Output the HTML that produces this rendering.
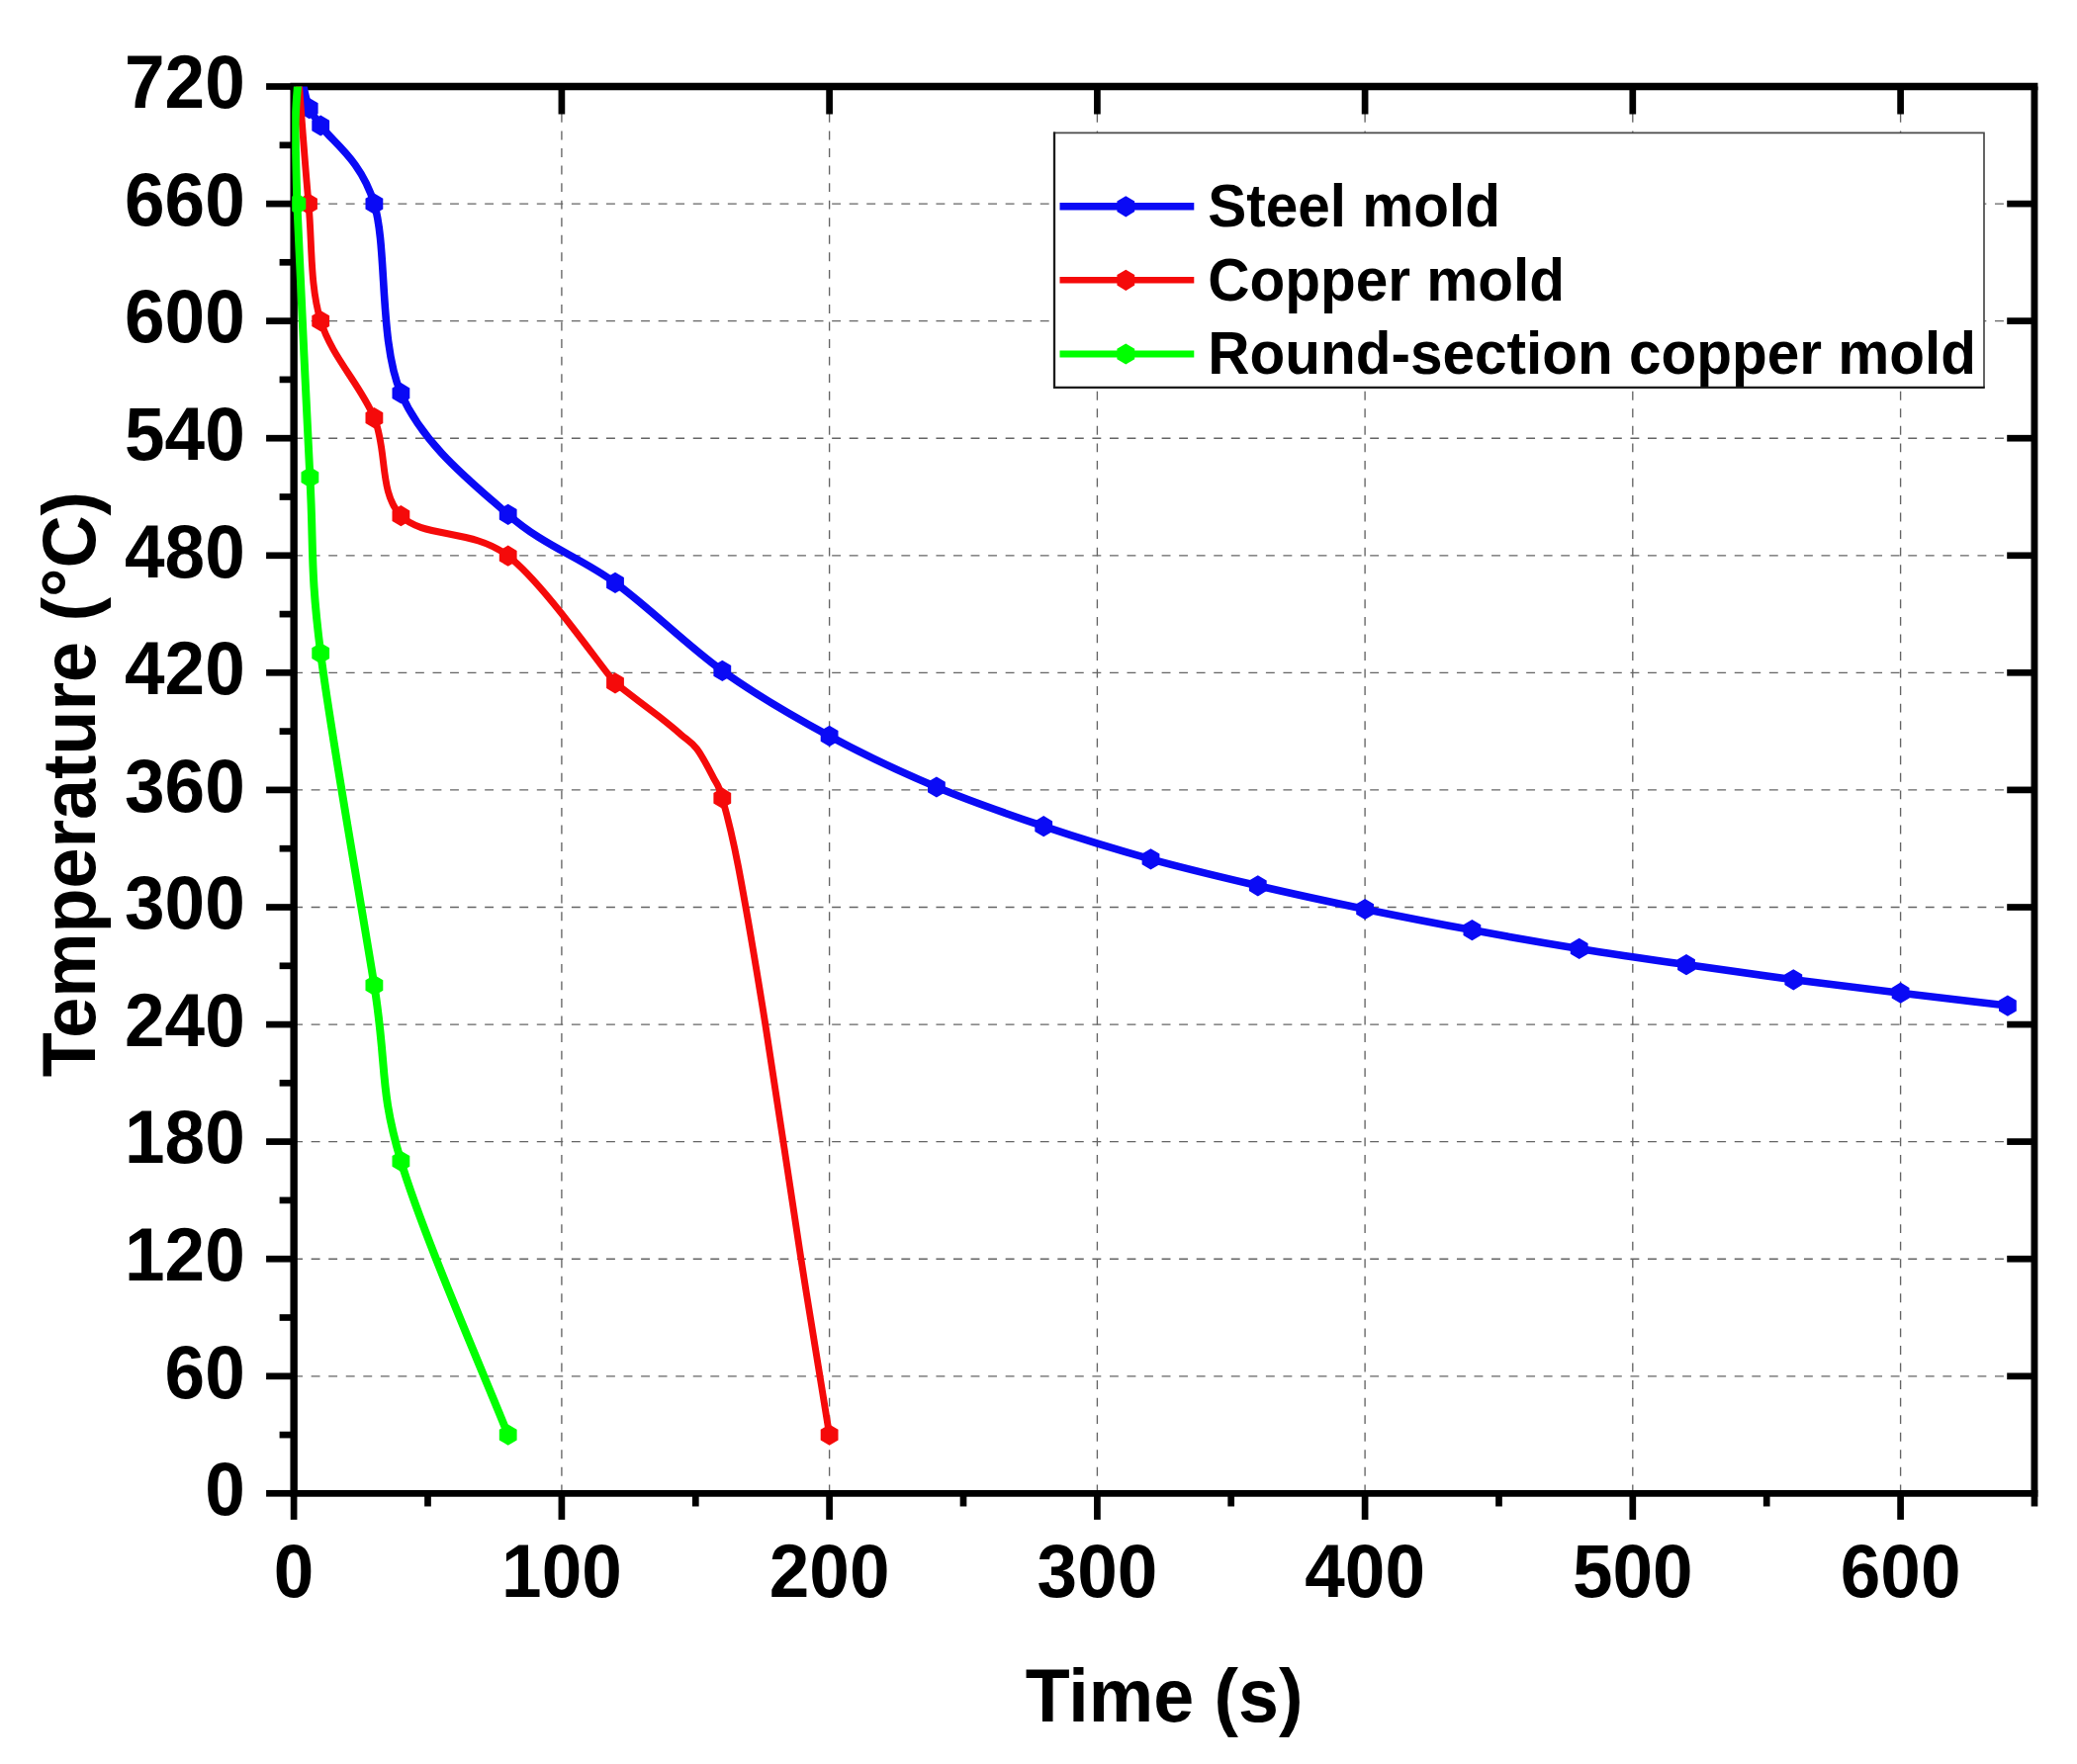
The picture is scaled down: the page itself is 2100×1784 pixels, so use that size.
<!DOCTYPE html>
<html><head><meta charset="utf-8"><title>Cooling curves</title>
<style>html,body{margin:0;padding:0;background:#fff}svg{display:block}text{font-family:"Liberation Sans",Arial,sans-serif;font-weight:bold;fill:#000}</style></head><body>
<svg width="2100" height="1784" viewBox="0 0 2100 1784">
<rect width="2100" height="1784" fill="#fff"/>
<g stroke="#646464" stroke-width="1.35" stroke-dasharray="8.9 8.65" fill="none">
<line x1="297.1" y1="1391.8" x2="2057.0" y2="1391.8"/>
<line x1="297.1" y1="1273.2" x2="2057.0" y2="1273.2"/>
<line x1="297.1" y1="1154.6" x2="2057.0" y2="1154.6"/>
<line x1="297.1" y1="1036.1" x2="2057.0" y2="1036.1"/>
<line x1="297.1" y1="917.5" x2="2057.0" y2="917.5"/>
<line x1="297.1" y1="798.9" x2="2057.0" y2="798.9"/>
<line x1="297.1" y1="680.3" x2="2057.0" y2="680.3"/>
<line x1="297.1" y1="561.8" x2="2057.0" y2="561.8"/>
<line x1="297.1" y1="443.2" x2="2057.0" y2="443.2"/>
<line x1="297.1" y1="324.6" x2="2057.0" y2="324.6"/>
<line x1="297.1" y1="206.1" x2="2057.0" y2="206.1"/>
<line x1="567.9" y1="1510.3" x2="567.9" y2="87.5"/>
<line x1="838.6" y1="1510.3" x2="838.6" y2="87.5"/>
<line x1="1109.4" y1="1510.3" x2="1109.4" y2="87.5"/>
<line x1="1380.1" y1="1510.3" x2="1380.1" y2="87.5"/>
<line x1="1650.8" y1="1510.3" x2="1650.8" y2="87.5"/>
<line x1="1921.6" y1="1510.3" x2="1921.6" y2="87.5"/>
</g>
<g stroke="#000" stroke-width="6.7" fill="none">
<path d="M297.15,87.49 V1510.35" stroke-width="7.4"/>
<path d="M293.45,87.49 H2060.41" stroke-width="7.4"/>
<path d="M2056.96,87.49 V1510.35" stroke-width="6.9"/>
<path d="M293.45,1510.35 H2060.41" stroke-width="6.9"/>
<line x1="269.1" y1="1510.3" x2="297.1" y2="1510.3"/>
<line x1="282.6" y1="1451.1" x2="297.1" y2="1451.1"/>
<line x1="269.1" y1="1391.8" x2="297.1" y2="1391.8"/>
<line x1="2029.2" y1="1391.8" x2="2057.0" y2="1391.8"/>
<line x1="282.6" y1="1332.5" x2="297.1" y2="1332.5"/>
<line x1="269.1" y1="1273.2" x2="297.1" y2="1273.2"/>
<line x1="2029.2" y1="1273.2" x2="2057.0" y2="1273.2"/>
<line x1="282.6" y1="1213.9" x2="297.1" y2="1213.9"/>
<line x1="269.1" y1="1154.6" x2="297.1" y2="1154.6"/>
<line x1="2029.2" y1="1154.6" x2="2057.0" y2="1154.6"/>
<line x1="282.6" y1="1095.3" x2="297.1" y2="1095.3"/>
<line x1="269.1" y1="1036.1" x2="297.1" y2="1036.1"/>
<line x1="2029.2" y1="1036.1" x2="2057.0" y2="1036.1"/>
<line x1="282.6" y1="976.8" x2="297.1" y2="976.8"/>
<line x1="269.1" y1="917.5" x2="297.1" y2="917.5"/>
<line x1="2029.2" y1="917.5" x2="2057.0" y2="917.5"/>
<line x1="282.6" y1="858.2" x2="297.1" y2="858.2"/>
<line x1="269.1" y1="798.9" x2="297.1" y2="798.9"/>
<line x1="2029.2" y1="798.9" x2="2057.0" y2="798.9"/>
<line x1="282.6" y1="739.6" x2="297.1" y2="739.6"/>
<line x1="269.1" y1="680.3" x2="297.1" y2="680.3"/>
<line x1="2029.2" y1="680.3" x2="2057.0" y2="680.3"/>
<line x1="282.6" y1="621.1" x2="297.1" y2="621.1"/>
<line x1="269.1" y1="561.8" x2="297.1" y2="561.8"/>
<line x1="2029.2" y1="561.8" x2="2057.0" y2="561.8"/>
<line x1="282.6" y1="502.5" x2="297.1" y2="502.5"/>
<line x1="269.1" y1="443.2" x2="297.1" y2="443.2"/>
<line x1="2029.2" y1="443.2" x2="2057.0" y2="443.2"/>
<line x1="282.6" y1="383.9" x2="297.1" y2="383.9"/>
<line x1="269.1" y1="324.6" x2="297.1" y2="324.6"/>
<line x1="2029.2" y1="324.6" x2="2057.0" y2="324.6"/>
<line x1="282.6" y1="265.3" x2="297.1" y2="265.3"/>
<line x1="269.1" y1="206.1" x2="297.1" y2="206.1"/>
<line x1="2029.2" y1="206.1" x2="2057.0" y2="206.1"/>
<line x1="282.6" y1="146.8" x2="297.1" y2="146.8"/>
<line x1="269.1" y1="87.5" x2="297.1" y2="87.5"/>
<line x1="297.1" y1="1510.3" x2="297.1" y2="1536.9"/>
<line x1="432.5" y1="1510.3" x2="432.5" y2="1523.5"/>
<line x1="567.9" y1="1510.3" x2="567.9" y2="1536.9"/>
<line x1="567.9" y1="87.5" x2="567.9" y2="115.5"/>
<line x1="703.3" y1="1510.3" x2="703.3" y2="1523.5"/>
<line x1="838.6" y1="1510.3" x2="838.6" y2="1536.9"/>
<line x1="838.6" y1="87.5" x2="838.6" y2="115.5"/>
<line x1="974.0" y1="1510.3" x2="974.0" y2="1523.5"/>
<line x1="1109.4" y1="1510.3" x2="1109.4" y2="1536.9"/>
<line x1="1109.4" y1="87.5" x2="1109.4" y2="115.5"/>
<line x1="1244.7" y1="1510.3" x2="1244.7" y2="1523.5"/>
<line x1="1380.1" y1="1510.3" x2="1380.1" y2="1536.9"/>
<line x1="1380.1" y1="87.5" x2="1380.1" y2="115.5"/>
<line x1="1515.5" y1="1510.3" x2="1515.5" y2="1523.5"/>
<line x1="1650.8" y1="1510.3" x2="1650.8" y2="1536.9"/>
<line x1="1650.8" y1="87.5" x2="1650.8" y2="115.5"/>
<line x1="1786.2" y1="1510.3" x2="1786.2" y2="1523.5"/>
<line x1="1921.6" y1="1510.3" x2="1921.6" y2="1536.9"/>
<line x1="1921.6" y1="87.5" x2="1921.6" y2="115.5"/>
<line x1="2057.0" y1="1510.3" x2="2057.0" y2="1523.5"/>
</g>
<clipPath id="c"><rect x="295.2" y="87.5" width="1771.8" height="1425.9"/></clipPath>
<g clip-path="url(#c)">
<path d="M306.9,87.5 C307.9,91.2 309.8,103.0 312.7,109.6 C315.6,116.2 313.3,110.9 324.2,127.0 C335.2,143.1 364.8,160.9 378.4,206.1 C391.9,251.2 382.9,345.4 405.4,397.7 C428.0,450.1 477.6,488.3 513.7,520.3 C549.8,552.2 585.9,563.1 622.0,589.4 C658.1,615.8 694.2,652.5 730.3,678.4 C766.4,704.2 802.5,724.8 838.6,744.4 C874.7,764.0 910.8,780.7 946.9,796.0 C983.0,811.2 1019.1,823.5 1055.2,835.7 C1091.3,847.8 1127.4,858.9 1163.5,868.9 C1199.6,878.9 1235.7,887.3 1271.8,895.8 C1307.9,904.2 1344.0,912.0 1380.1,919.5 C1416.2,926.9 1452.3,934.0 1488.4,940.6 C1524.5,947.3 1560.6,953.6 1596.7,959.4 C1632.8,965.2 1668.9,970.4 1705.0,975.6 C1741.1,980.8 1777.2,986.0 1813.3,990.8 C1849.4,995.6 1885.5,999.9 1921.6,1004.2 C1957.7,1008.6 2011.8,1014.9 2029.9,1017.1" fill="none" stroke="#0a0af5" stroke-width="7.6" stroke-linejoin="round" stroke-linecap="round"/>
<g fill="#0a0af5">
<polygon points="312.7,99.0 321.6,104.3 321.6,114.9 312.7,120.2 303.8,114.9 303.8,104.3"/>
<polygon points="324.2,116.4 333.1,121.7 333.1,132.3 324.2,137.6 315.3,132.3 315.3,121.7"/>
<polygon points="378.4,195.5 387.3,200.8 387.3,211.4 378.4,216.7 369.5,211.4 369.5,200.8"/>
<polygon points="405.4,387.1 414.3,392.4 414.3,403.0 405.4,408.3 396.5,403.0 396.5,392.4"/>
<polygon points="513.7,509.7 522.6,515.0 522.6,525.6 513.7,530.9 504.8,525.6 504.8,515.0"/>
<polygon points="622.0,578.8 630.9,584.1 630.9,594.7 622.0,600.0 613.1,594.7 613.1,584.1"/>
<polygon points="730.3,667.8 739.2,673.1 739.2,683.7 730.3,689.0 721.4,683.7 721.4,673.1"/>
<polygon points="838.6,733.8 847.5,739.1 847.5,749.7 838.6,755.0 829.7,749.7 829.7,739.1"/>
<polygon points="946.9,785.4 955.8,790.7 955.8,801.3 946.9,806.6 938.0,801.3 938.0,790.7"/>
<polygon points="1055.2,825.1 1064.1,830.4 1064.1,841.0 1055.2,846.3 1046.3,841.0 1046.3,830.4"/>
<polygon points="1163.5,858.3 1172.4,863.6 1172.4,874.2 1163.5,879.5 1154.6,874.2 1154.6,863.6"/>
<polygon points="1271.8,885.2 1280.7,890.5 1280.7,901.1 1271.8,906.4 1262.9,901.1 1262.9,890.5"/>
<polygon points="1380.1,908.9 1389.0,914.2 1389.0,924.8 1380.1,930.1 1371.2,924.8 1371.2,914.2"/>
<polygon points="1488.4,930.0 1497.3,935.3 1497.3,945.9 1488.4,951.2 1479.5,945.9 1479.5,935.3"/>
<polygon points="1596.7,948.8 1605.6,954.1 1605.6,964.7 1596.7,970.0 1587.8,964.7 1587.8,954.1"/>
<polygon points="1705.0,965.0 1713.9,970.3 1713.9,980.9 1705.0,986.2 1696.1,980.9 1696.1,970.3"/>
<polygon points="1813.3,980.2 1822.2,985.5 1822.2,996.1 1813.3,1001.4 1804.4,996.1 1804.4,985.5"/>
<polygon points="1921.6,993.6 1930.5,998.9 1930.5,1009.5 1921.6,1014.8 1912.7,1009.5 1912.7,998.9"/>
<polygon points="2029.9,1006.5 2038.8,1011.8 2038.8,1022.4 2029.9,1027.7 2021.0,1022.4 2021.0,1011.8"/>
</g>
<path d="M302.6,87.5 C304.1,107.2 308.4,166.5 312.0,206.1 C315.7,245.6 313.2,288.5 324.2,324.6 C335.3,360.7 364.8,389.8 378.4,422.6 C391.9,455.5 382.9,498.4 405.4,521.7 C428.0,544.9 477.6,534.0 513.7,562.2 C549.8,590.4 604.0,669.4 622.0,690.8 C629.4,696.5 655.1,716.0 666.2,724.6 C677.2,733.3 682.0,737.3 688.4,742.8 C694.8,748.3 699.2,750.2 704.6,757.4 C710.1,764.6 716.8,777.8 721.1,786.1 C725.4,794.4 726.1,792.1 730.3,807.2 C734.6,822.4 739.3,838.9 746.6,877.0 C753.8,915.1 763.3,969.8 773.8,1035.9 C784.4,1101.9 799.1,1204.0 809.9,1273.2 C820.7,1342.4 833.8,1421.4 838.6,1451.1" fill="none" stroke="#f50a0a" stroke-width="6.9" stroke-linejoin="round" stroke-linecap="round"/>
<g fill="#f50a0a">
<polygon points="312.0,195.5 320.9,200.8 320.9,211.4 312.0,216.7 303.1,211.4 303.1,200.8"/>
<polygon points="324.2,314.0 333.1,319.3 333.1,329.9 324.2,335.2 315.3,329.9 315.3,319.3"/>
<polygon points="378.4,412.0 387.3,417.3 387.3,427.9 378.4,433.2 369.5,427.9 369.5,417.3"/>
<polygon points="405.4,511.1 414.3,516.4 414.3,527.0 405.4,532.3 396.5,527.0 396.5,516.4"/>
<polygon points="513.7,551.6 522.6,556.9 522.6,567.5 513.7,572.8 504.8,567.5 504.8,556.9"/>
<polygon points="622.0,680.2 630.9,685.5 630.9,696.1 622.0,701.4 613.1,696.1 613.1,685.5"/>
<polygon points="730.3,796.6 739.2,801.9 739.2,812.5 730.3,817.8 721.4,812.5 721.4,801.9"/>
<polygon points="838.6,1440.5 847.5,1445.8 847.5,1456.4 838.6,1461.7 829.7,1456.4 829.7,1445.8"/>
</g>
<path d="M300.9,87.5 C300.6,94.1 298.7,107.2 298.6,127.0 C298.5,146.8 300.1,192.9 300.4,206.1 C302.6,252.2 309.4,407.0 313.4,482.7 C317.4,558.5 313.4,574.9 324.2,660.6 C335.1,746.2 364.8,910.9 378.4,996.5 C391.9,1082.2 382.9,1098.6 405.4,1174.4 C428.0,1250.2 495.7,1405.0 513.7,1451.1" fill="none" stroke="#00ff00" stroke-width="8.0" stroke-linejoin="round" stroke-linecap="round"/>
<g fill="#00ff00">
<polygon points="300.4,195.5 309.3,200.8 309.3,211.4 300.4,216.7 291.5,211.4 291.5,200.8"/>
<polygon points="313.4,472.1 322.3,477.4 322.3,488.0 313.4,493.3 304.5,488.0 304.5,477.4"/>
<polygon points="324.2,650.0 333.1,655.3 333.1,665.9 324.2,671.2 315.3,665.9 315.3,655.3"/>
<polygon points="378.4,985.9 387.3,991.2 387.3,1001.8 378.4,1007.1 369.5,1001.8 369.5,991.2"/>
<polygon points="405.4,1163.8 414.3,1169.1 414.3,1179.7 405.4,1185.0 396.5,1179.7 396.5,1169.1"/>
<polygon points="513.7,1440.5 522.6,1445.8 522.6,1456.4 513.7,1461.7 504.8,1456.4 504.8,1445.8"/>
</g>
</g>
<text font-size="76.5" text-anchor="end" transform="translate(247.7,1532.0) scale(0.9530,1)">0</text>
<text font-size="76.5" text-anchor="end" transform="translate(247.7,1413.5) scale(0.9530,1)">60</text>
<text font-size="76.5" text-anchor="end" transform="translate(247.7,1294.9) scale(0.9530,1)">120</text>
<text font-size="76.5" text-anchor="end" transform="translate(247.7,1176.3) scale(0.9530,1)">180</text>
<text font-size="76.5" text-anchor="end" transform="translate(247.7,1057.8) scale(0.9530,1)">240</text>
<text font-size="76.5" text-anchor="end" transform="translate(247.7,939.2) scale(0.9530,1)">300</text>
<text font-size="76.5" text-anchor="end" transform="translate(247.7,820.6) scale(0.9530,1)">360</text>
<text font-size="76.5" text-anchor="end" transform="translate(247.7,702.0) scale(0.9530,1)">420</text>
<text font-size="76.5" text-anchor="end" transform="translate(247.7,583.5) scale(0.9530,1)">480</text>
<text font-size="76.5" text-anchor="end" transform="translate(247.7,464.9) scale(0.9530,1)">540</text>
<text font-size="76.5" text-anchor="end" transform="translate(247.7,346.3) scale(0.9530,1)">600</text>
<text font-size="76.5" text-anchor="end" transform="translate(247.7,227.8) scale(0.9530,1)">660</text>
<text font-size="76.5" text-anchor="end" transform="translate(247.7,109.2) scale(0.9530,1)">720</text>
<text font-size="76.5" text-anchor="middle" transform="translate(297.1,1615.4) scale(0.9530,1)">0</text>
<text font-size="76.5" text-anchor="middle" transform="translate(567.9,1615.4) scale(0.9530,1)">100</text>
<text font-size="76.5" text-anchor="middle" transform="translate(838.6,1615.4) scale(0.9530,1)">200</text>
<text font-size="76.5" text-anchor="middle" transform="translate(1109.4,1615.4) scale(0.9530,1)">300</text>
<text font-size="76.5" text-anchor="middle" transform="translate(1380.1,1615.4) scale(0.9530,1)">400</text>
<text font-size="76.5" text-anchor="middle" transform="translate(1650.8,1615.4) scale(0.9530,1)">500</text>
<text font-size="76.5" text-anchor="middle" transform="translate(1921.6,1615.4) scale(0.9530,1)">600</text>
<text font-size="76.5" text-anchor="middle" transform="translate(1177.1,1740.6) scale(0.9620,1)">Time (s)</text>
<text font-size="76.5" text-anchor="middle" transform="translate(95.5,793.1) rotate(-90) scale(0.9620,1)">Temperature (°C)</text>
<rect x="1066" y="134.4" width="940" height="257.4" fill="#fff"/>
<path d="M1065,134.4 H2006.8 M2006,134.4 V391.8" fill="none" stroke="#4a4a4a" stroke-width="1.7"/>
<path d="M1066,133.6 V391.8 M1064.9,391.8 H2006.8" fill="none" stroke="#1c1c1c" stroke-width="2.3"/>
<line x1="1071.5" y1="208.8" x2="1207.3" y2="208.8" stroke="#0a0af5" stroke-width="7.6"/>
<polygon points="1138.3,198.2 1147.2,203.5 1147.2,214.1 1138.3,219.4 1129.4,214.1 1129.4,203.5" fill="#0a0af5"/>
<text font-size="60.5" text-anchor="start" transform="translate(1221.3,229.2) scale(0.9670,1)">Steel mold</text>
<line x1="1071.5" y1="283.3" x2="1207.3" y2="283.3" stroke="#f50a0a" stroke-width="6.5"/>
<polygon points="1138.3,272.7 1147.2,278.0 1147.2,288.6 1138.3,293.9 1129.4,288.6 1129.4,278.0" fill="#f50a0a"/>
<text font-size="60.5" text-anchor="start" transform="translate(1221.3,303.7) scale(0.9670,1)">Copper mold</text>
<line x1="1071.5" y1="358.0" x2="1207.3" y2="358.0" stroke="#00ff00" stroke-width="7"/>
<polygon points="1138.3,347.4 1147.2,352.7 1147.2,363.3 1138.3,368.6 1129.4,363.3 1129.4,352.7" fill="#00ff00"/>
<text font-size="60.5" text-anchor="start" transform="translate(1221.3,378.4) scale(0.9670,1)">Round-section copper mold</text>
</svg></body></html>
